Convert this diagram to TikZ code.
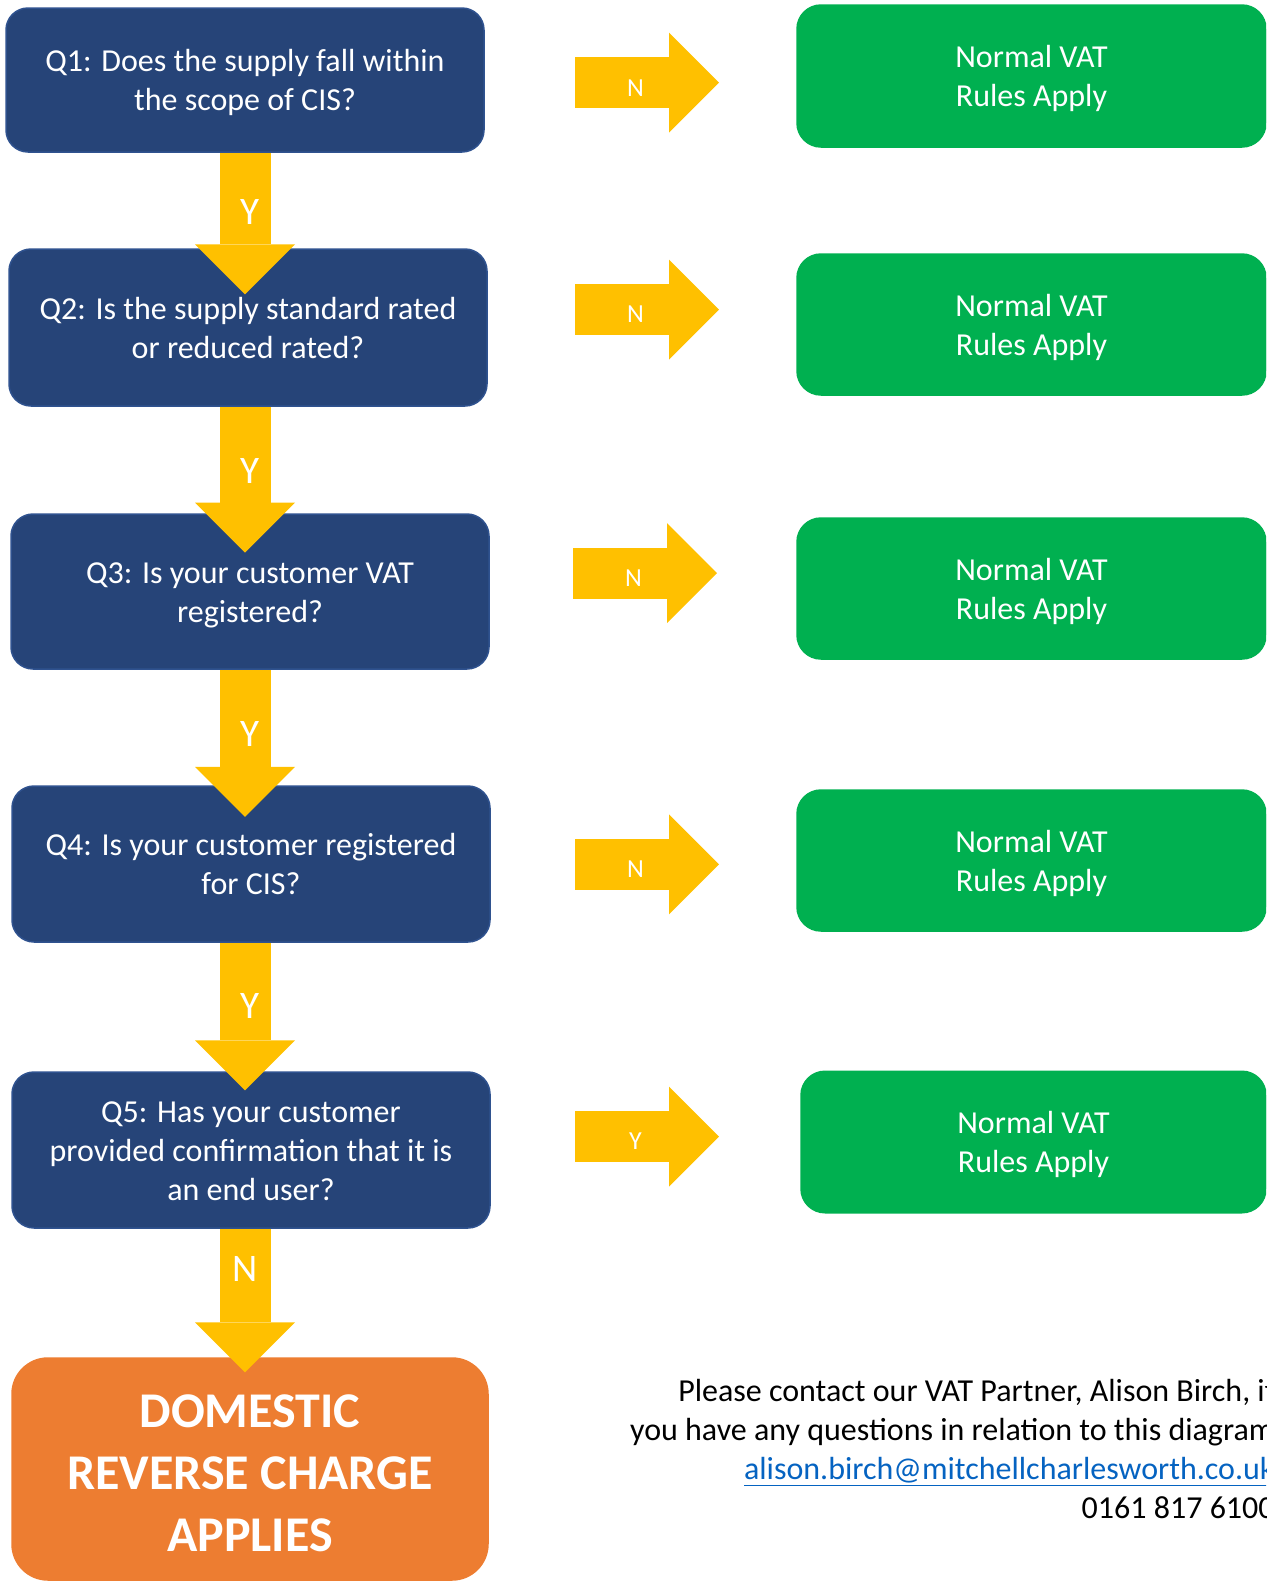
\documentclass[tikz,border=0pt]{standalone}
\usepackage{fontspec}
\setmainfont{Carlito}
\usepackage{xcolor}
\usepackage{tikz}
\usetikzlibrary{arrows.meta}
\newcommand*{\boxstrut}{\rule[-0.25em]{0pt}{1.2em}}
\newcommand*{\capstrut}{\rule{0pt}{0.84em}}
\definecolor{qblue}{HTML}{264478}
\definecolor{qedge}{HTML}{2F528F}
\definecolor{rulegreen}{HTML}{00B050}
\definecolor{arrowgold}{HTML}{FFC000}
\definecolor{endorange}{HTML}{ED7D31}
\definecolor{mailblue}{HTML}{0563C1}
\tikzstyle{qnode}=[white, draw=qedge, line width=0.75pt, shape=rectangle, rounded corners=11pt, fill=qblue, minimum width=239pt, inner sep=3pt, align=center, font=\fontsize{16pt}{19.5pt}\selectfont]
\tikzstyle{rulenode}=[white, draw=rulegreen, line width=0.75pt, shape=rectangle, rounded corners=12pt, fill=rulegreen, inner sep=3pt, align=center, font=\fontsize{16pt}{19.5pt}\selectfont]
\tikzstyle{endnode}=[white, draw=endorange, line width=0.75pt, shape=rectangle, rounded corners=18pt, fill=endorange, inner sep=3pt, align=center, font=\bfseries\fontsize{25pt}{31pt}\selectfont]
\tikzstyle{contactnode}=[black, inner sep=0pt, align=right, font=\fontsize{16pt}{19.4pt}\selectfont]
\tikzstyle{downarrow}=[-{Triangle[length=25pt, width=50pt, line width=0pt]}, line width=25.5pt, color=arrowgold]
\tikzstyle{rightarrow}=[-{Triangle[length=25pt, width=50pt, line width=0pt]}, line width=25.5pt, color=arrowgold]
\tikzstyle{downlabel}=[white, inner sep=0pt, font=\fontsize{19.5pt}{23pt}\selectfont]
\tikzstyle{sidelabel}=[white, inner sep=0pt, font=\fontsize{13pt}{16pt}\selectfont]

\begin{document}
\begin{tikzpicture}[x=0.5pt, y=-0.5pt]
\useasboundingbox (0,0) rectangle (1266,1581);
\clip (0,0) rectangle (1266,1581);

\node [qnode, minimum height=72pt] (q1) at (245,80) {\boxstrut Q1: Does the supply fall within\\\boxstrut the scope of CIS?};
\node [qnode, minimum height=78.5pt] (q2) at (248,327.5) {\boxstrut Q2: Is the supply standard rated\\\boxstrut or reduced rated?};
\node [qnode, minimum height=77.5pt] (q3) at (250,591.5) {\boxstrut Q3: Is your customer VAT\\\boxstrut registered?};
\node [qnode, minimum height=78pt] (q4) at (251,864) {\boxstrut Q4: Is your customer registered\\\boxstrut for CIS?};
\node [qnode, minimum height=78pt] (q5) at (251,1150) {\boxstrut Q5: Has your customer\\provided confirmation that it is\\\boxstrut an end user?};
\node [endnode, minimum width=238pt, minimum height=111pt] (drc) at (250,1469) {\capstrut DOMESTIC\\REVERSE CHARGE\\APPLIES};

\node [rulenode, minimum width=234.5pt, minimum height=71pt] (g1) at (1031.5,76) {\boxstrut Normal VAT\\\boxstrut Rules Apply};
\node [rulenode, minimum width=234.5pt, minimum height=70.5pt] (g2) at (1031.5,324.5) {\boxstrut Normal VAT\\\boxstrut Rules Apply};
\node [rulenode, minimum width=234.5pt, minimum height=70.5pt] (g3) at (1031.5,588.5) {\boxstrut Normal VAT\\\boxstrut Rules Apply};
\node [rulenode, minimum width=234.5pt, minimum height=70.5pt] (g4) at (1031.5,860.5) {\boxstrut Normal VAT\\\boxstrut Rules Apply};
\node [rulenode, minimum width=232.5pt, minimum height=70.75pt] (g5) at (1033.5,1142) {\boxstrut Normal VAT\\\boxstrut Rules Apply};

\node [contactnode, anchor=north east] (contact) at (1275,1379) {Please contact our VAT Partner, Alison Birch, if\\you have any questions in relation to this diagram\\{\color{mailblue}\underline{alison.birch@mitchellcharlesworth.co.uk}}\\0161 817 6100};

% side arrows
\coordinate (side1) at (575,82.7);
\coordinate (side1tip) at (719,82.7);
\coordinate (side2) at (575,309.5);
\coordinate (side2tip) at (719,309.5);
\coordinate (side3) at (573,573);
\coordinate (side3tip) at (717,573);
\coordinate (side4) at (575,864.4);
\coordinate (side4tip) at (719,864.4);
\coordinate (side5) at (575,1136.5);
\coordinate (side5tip) at (719,1136.5);

\draw[rightarrow] (side1) -- node[sidelabel, pos=0.42, yshift=-2.5pt] {N} (side1tip);
\draw[rightarrow] (side2) -- node[sidelabel, pos=0.42, yshift=-2.5pt] {N} (side2tip);
\draw[rightarrow] (side3) -- node[sidelabel, pos=0.42, yshift=-2.5pt] {N} (side3tip);
\draw[rightarrow] (side4) -- node[sidelabel, pos=0.42, yshift=-2.5pt] {N} (side4tip);
\draw[rightarrow] (side5) -- node[sidelabel, pos=0.42, yshift=-2.5pt] {Y} (side5tip);

% down arrows
\draw[downarrow, shorten >=-23pt] (q1.south) -- node[downlabel, pos=0.615, xshift=2.75pt] {Y} (q1.south |- q2.north);
\draw[downarrow, shorten >=-19.7pt] (q2.south -| q1.south) -- node[downlabel, pos=0.6, xshift=2.75pt] {Y} (q1.south |- q3.north);
\draw[downarrow, shorten >=-15.75pt] (q3.south -| q1.south) -- node[downlabel, pos=0.56, xshift=2.75pt] {Y} (q1.south |- q4.north);
\draw[downarrow, shorten >=-9.6pt] (q4.south -| q1.south) -- node[downlabel, pos=0.49, xshift=2.75pt] {Y} (q1.south |- q5.north);
\draw[downarrow, shorten >=-7.5pt] (q5.south -| q1.south) -- node[downlabel, pos=0.31] {N} (q1.south |- drc.north);
\end{tikzpicture}
\end{document}
